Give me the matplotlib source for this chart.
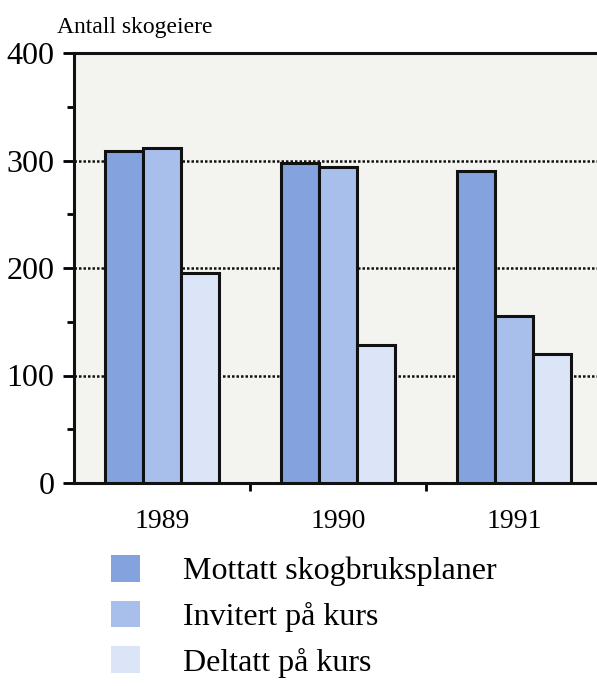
# Imports
import numpy as np
import matplotlib
matplotlib.use('Agg')
import matplotlib.pyplot as plt
import matplotlib.ticker as ticker
from matplotlib.patches import Patch

# Data.
years = ['1989', '1990', '1991']
mottatt = [309, 298, 290]
invitert = [312, 294, 155]
deltatt = [195, 128, 120]
series_labels = ['Mottatt skogbruksplaner', 'Invitert på kurs', 'Deltatt på kurs']
series_colors = ['#84a2de', '#a7bfea', '#dce5f8']
y_ticks = [0, 100, 200, 300, 400]

plt.rcParams['font.family'] = ['Liberation Serif', 'DejaVu Serif']

fig = plt.figure(figsize=(5.97, 6.86), dpi=100)
ax = fig.add_axes([74 / 597, 1 - 483 / 686, 1 - 74 / 597, (483 - 53) / 686])
ax.set_facecolor('#f3f3ef')

# Bars.
x = np.arange(len(years))
width = 0.215
for i, vals in enumerate([mottatt, invitert, deltatt]):
    ax.bar(x + (i - 1) * width, vals, width, color=series_colors[i],
           edgecolor='#111111', linewidth=2.2, zorder=3)

# Dotted grid lines behind bars.
for yv in y_ticks[1:-1]:
    ax.axhline(yv, color='#111111', linestyle=(0, (1, 0.8)), linewidth=1.8, zorder=1)

ax.set_xlim(-0.5, 2.47)
ax.set_ylim(0, 400)

# y-axis ticks.
ax.yaxis.set_major_locator(ticker.FixedLocator(y_ticks))
ax.yaxis.set_minor_locator(ticker.FixedLocator([50, 150, 250, 350]))
ax.tick_params(axis='y', which='major', length=8, width=2.0, labelsize=23, pad=6)
ax.tick_params(axis='y', which='minor', length=5, width=2.0)

# x-axis: labels at group centres, marks between groups.
ax.set_xticks(x)
ax.set_xticklabels(years)
ax.xaxis.set_minor_locator(ticker.FixedLocator([0.5, 1.5]))
ax.tick_params(axis='x', which='major', length=0, labelsize=20, pad=19)
ax.tick_params(axis='x', which='minor', length=6, width=2.0)

for side in ['left', 'bottom', 'top']:
    ax.spines[side].set_linewidth(2.2)
    ax.spines[side].set_color('#111111')
ax.spines['right'].set_visible(False)

# Axis title.
fig.text(57 / 597, 1 - 33 / 686, 'Antall skogeiere', fontsize=17, va='baseline', ha='left')

# Legend below the chart.
handles = [Patch(facecolor=c, edgecolor='none') for c in series_colors]
fig.legend(handles, series_labels, loc='upper left',
           bbox_to_anchor=(111 / 597, 1 - 555 / 686), frameon=False,
           fontsize=23, handlelength=0.9, handleheight=0.9,
           handletextpad=1.35, labelspacing=0.45, borderpad=0, borderaxespad=0)

fig.savefig('out.png', dpi=100)
